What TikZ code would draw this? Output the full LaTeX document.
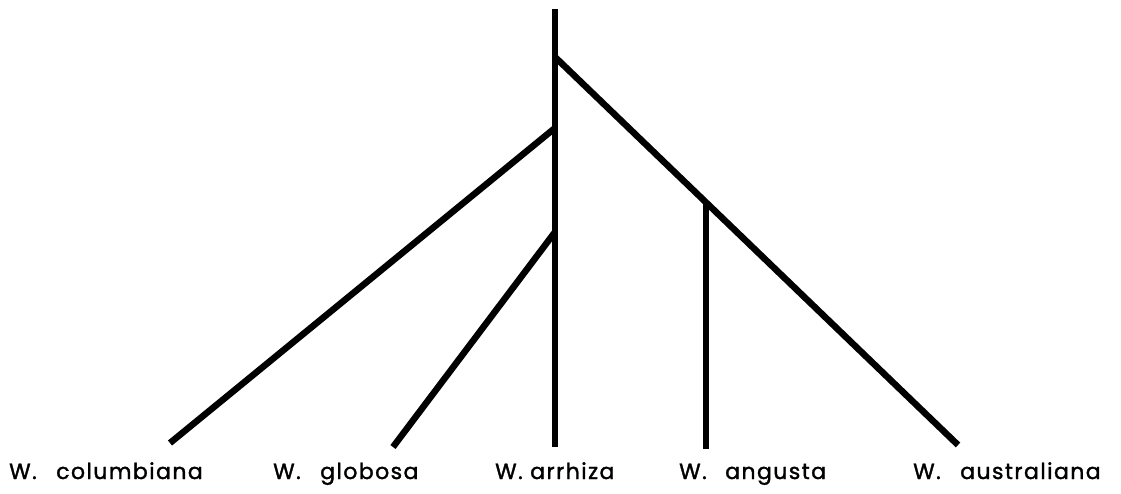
\documentclass[tikz,border=0pt]{standalone}
\usepackage{fontspec}
\setmainfont{Poppins}[LetterSpace=6.5,FakeBold=1.5]
\begin{document}
\begin{tikzpicture}[x=1pt,y=-1pt,
  branch/.style={line width=6.5pt,line cap=butt},
  taxon/.style={font=\fontsize{22}{26}\selectfont,anchor=base west,inner sep=0pt}]
\useasboundingbox (0,0) rectangle (1121,494);
% junctions
\coordinate (top) at (555,9);
\coordinate (jR) at (555,57);
\coordinate (jL) at (555,128);
\coordinate (jG) at (555,232);
\coordinate (jA) at (706,202);
% tips
\coordinate (tCol) at (170,443);
\coordinate (tGlo) at (393,447);
\coordinate (tArr) at (555,447);
\coordinate (tAng) at (706,449);
\coordinate (tAus) at (958,445);
% labels: genus abbreviation and epithet
\node[taxon] (gCol) at (9,479) {W.};
\node[taxon] (lCol) at (56,479) {columbiana};
\node[taxon] (gGlo) at (273,479) {W.};
\node[taxon] (lGlo) at (320,479) {globosa};
\node[taxon] (gArr) at (495,479) {W.};
\node[taxon] (lArr) at (530,479) {arrhiza};
\node[taxon] (gAng) at (679,479) {W.};
\node[taxon] (lAng) at (725,479) {angusta};
\node[taxon] (gAus) at (913,479) {W.};
\node[taxon] (lAus) at (960,479) {australiana};
% tree
\draw[branch] (top) -- (tArr);
\draw[branch] (jR) -- (tAus);
\draw[branch] (jL) -- (tCol);
\draw[branch] (jG) -- (tGlo);
\draw[branch] (jA) -- (tAng);
\end{tikzpicture}
\end{document}
